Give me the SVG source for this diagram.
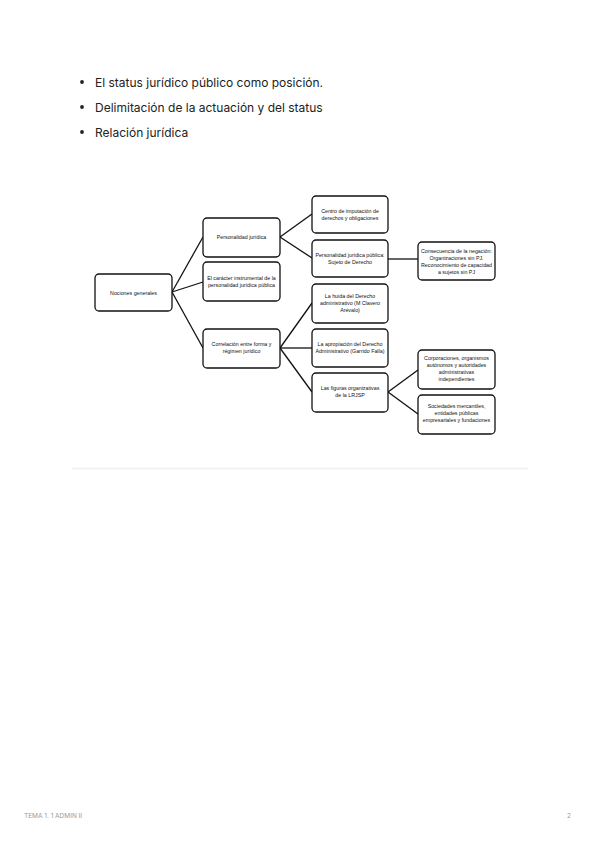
<svg xmlns="http://www.w3.org/2000/svg" width="600" height="848" viewBox="0 0 600 848">
<style>
.bul{font-family:Inter,"Liberation Sans",sans-serif;font-size:12px;fill:#222}
.box rect{fill:#fff;stroke:#111;stroke-width:1.3}
.box text{font-family:"Liberation Sans",Arial,sans-serif;font-size:5.3px;fill:#111;text-anchor:middle}
.con line{stroke:#111;stroke-width:1.3}
.foot{font-family:Inter,"Liberation Sans",sans-serif;font-size:6.5px;fill:#999}
</style>
<rect width="600" height="848" fill="#fff"/>
<g id="bullets">
<circle cx="82" cy="82" r="1.9" fill="#222"/>
<text class="bul" x="95" y="86.5">El status jurídico público como posición.</text>
<circle cx="82" cy="107" r="1.9" fill="#222"/>
<text class="bul" x="95" y="111.5">Delimitación de la actuación y del status</text>
<circle cx="82" cy="132" r="1.9" fill="#222"/>
<text class="bul" x="95" y="136.5">Relación jurídica</text>
</g>
<g id="connectors" class="con">
<line x1="172" y1="292" x2="203" y2="237"/>
<line x1="172" y1="292" x2="203" y2="282"/>
<line x1="172" y1="292" x2="203" y2="348"/>
<line x1="280" y1="237" x2="312" y2="214"/>
<line x1="280" y1="237" x2="312" y2="258"/>
<line x1="388" y1="259" x2="418" y2="259"/>
<line x1="280" y1="348" x2="312" y2="303"/>
<line x1="280" y1="348" x2="312" y2="348"/>
<line x1="280" y1="348" x2="312" y2="392"/>
<line x1="388" y1="392" x2="418" y2="370"/>
<line x1="388" y1="392" x2="418" y2="414"/>
</g>
<g id="n1" class="box"><rect x="95" y="274" width="77" height="37" rx="4"/><text x="133.5" y="294.5">Nociones generales</text></g>
<g id="n2" class="box"><rect x="203" y="218" width="77" height="39" rx="4"/><text x="241.5" y="239">Personalidad jurídica</text></g>
<g id="n3" class="box"><rect x="203" y="262" width="77" height="39" rx="4"/><text x="241.5" y="280">El carácter instrumental de la</text><text x="241.5" y="287">personalidad jurídica pública</text></g>
<g id="n4" class="box"><rect x="203" y="329" width="77" height="39" rx="4"/><text x="241.5" y="346">Correlación entre forma y</text><text x="241.5" y="353">régimen jurídico</text></g>
<g id="n5" class="box"><rect x="312" y="196" width="76" height="37" rx="4"/><text x="350" y="213">Centro de imputación de</text><text x="350" y="220">derechos y obligaciones</text></g>
<g id="n6" class="box"><rect x="312" y="240" width="76" height="37" rx="4"/><text x="350" y="257">Personalidad jurídica pública:</text><text x="350" y="264">Sujeto de Derecho</text></g>
<g id="n7" class="box"><rect x="418" y="242" width="77" height="38" rx="4"/><text x="456.5" y="253">Consecuencia de la negación:</text><text x="456.5" y="260">Organizaciones sin PJ.</text><text x="456.5" y="267">Reconocimiento de capacidad</text><text x="456.5" y="274">a sujetos sin PJ</text></g>
<g id="n8" class="box"><rect x="312" y="284" width="76" height="39" rx="4"/><text x="350" y="298">La huida del Derecho</text><text x="350" y="305">administrativo (M Clavero</text><text x="350" y="312">Arévalo)</text></g>
<g id="n9" class="box"><rect x="312" y="329" width="76" height="38" rx="4"/><text x="350" y="346">La apropiación del Derecho</text><text x="350" y="353">Administrativo (Garrido Falla)</text></g>
<g id="n10" class="box"><rect x="312" y="373" width="76" height="39" rx="4"/><text x="350" y="390">Las figuras organizativas</text><text x="350" y="397">de la LRJSP</text></g>
<g id="n11" class="box"><rect x="418" y="350" width="77" height="39" rx="4"/><text x="456.5" y="360">Corporaciones, organismos</text><text x="456.5" y="367">autónomos y autoridades</text><text x="456.5" y="374">administrativas</text><text x="456.5" y="381">independientes</text></g>
<g id="n12" class="box"><rect x="418" y="395" width="77" height="39" rx="4"/><text x="456.5" y="408">Sociedades mercantiles,</text><text x="456.5" y="415">entidades públicas</text><text x="456.5" y="422">empresariales y fundaciones</text></g>
<line x1="72" y1="468.5" x2="528" y2="468.5" stroke="#eeeeee" stroke-width="1.5"/>
<text class="foot" x="24" y="818">TEMA 1. 1 ADMIN II</text>
<text class="foot" x="567" y="818">2</text>
</svg>
